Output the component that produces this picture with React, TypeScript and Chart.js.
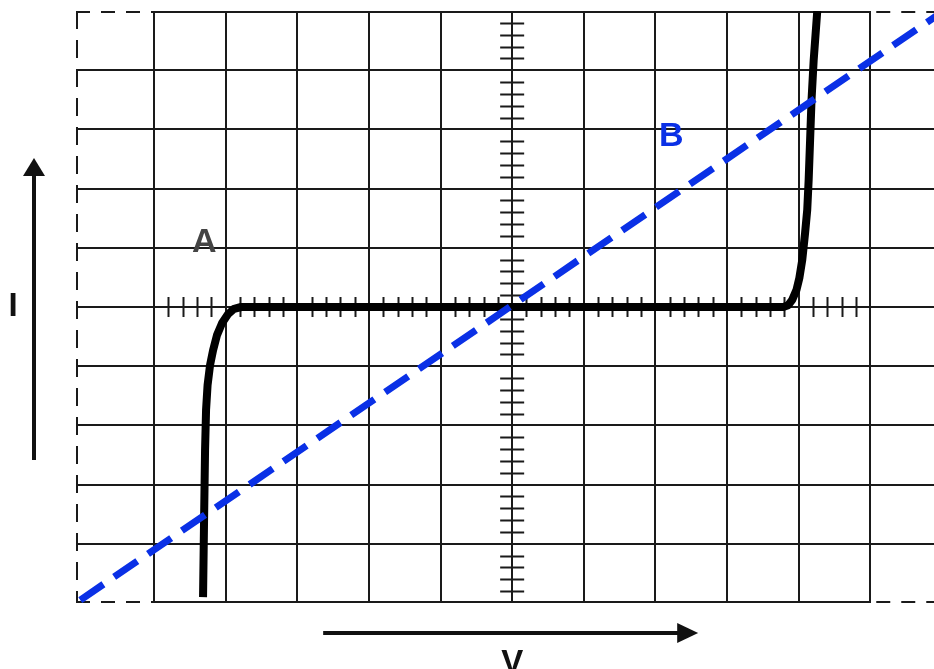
import React, { useEffect, useRef } from 'react';
import { Chart, registerables } from 'chart.js';

Chart.register(...registerables);

// Axis ranges (divisions of the oscilloscope screen)
const X_MIN = -6.09;
const X_MAX = 5.89;
const Y_MIN = -5;
const Y_MAX = 5;

// Grid tick positions
const xGridTicks = [-5, -4, -3, -2, -1, 0, 1, 2, 3, 4, 5];
const yGridTicks = [-4, -3, -2, -1, 0, 1, 2, 3, 4];

// Curve A (diode / zener characteristic)
const diodeVoltage = [
  -4.316, -4.302, -4.288, -4.274, -4.253, -4.218, -4.176, -4.12, -4.05, -3.966, -3.883, -3.785,
  3.785, 3.855, 3.91, 3.97, 4.01, 4.05, 4.09, 4.12, 4.14, 4.16, 4.18, 4.21, 4.26,
];
const diodeCurrent = [
  -4.9, -3.6, -2.42, -1.74, -1.32, -0.98, -0.73, -0.47, -0.27, -0.12, -0.03, 0,
  0, 0.03, 0.12, 0.29, 0.49, 0.79, 1.25, 1.64, 2.15, 2.82, 3.5, 4.17, 5.0,
];

// Curve B (resistor, linear)
const resistorVoltage = [-6.03, 6.0];
const resistorCurrent = [-4.95, 4.98];

// Curve labels (data coordinates)
const curveLabels = [
  { text: 'A', x: -4.30, y: 1.08, color: '#444444' },
  { text: 'B', x: 2.22, y: 2.87, color: '#0a30e6' },
];

const GRID = '#1a1a1a';
const BLUE = '#0a30e6';
const FONT = '"Liberation Sans", Arial, sans-serif';

const decorPlugin = {
  id: 'decor',
  beforeDatasetsDraw(chart: any) {
    const { ctx, chartArea, scales } = chart;
    const xs = scales.x;
    const ys = scales.y;
    ctx.save();
    ctx.strokeStyle = GRID;
    ctx.lineWidth = 2;
    ctx.lineCap = 'butt';

    const xl = xs.getPixelForValue(-5);
    const xr = xs.getPixelForValue(5);
    // top & bottom lines: solid inside, dashed outside
    for (const v of [Y_MIN, Y_MAX]) {
      const py = v === Y_MAX ? chartArea.top + 1 : chartArea.bottom - 1;
      ctx.setLineDash([]);
      ctx.beginPath();
      ctx.moveTo(xl, py);
      ctx.lineTo(xr, py);
      ctx.stroke();
      ctx.setLineDash([14, 11]);
      ctx.beginPath();
      ctx.moveTo(chartArea.left, py);
      ctx.lineTo(xl, py);
      ctx.stroke();
      ctx.beginPath();
      ctx.moveTo(xr + 6, py);
      ctx.lineTo(chartArea.right, py);
      ctx.stroke();
    }
    // left dashed border
    ctx.setLineDash([18, 11]);
    ctx.beginPath();
    ctx.moveTo(chartArea.left + 1, chartArea.top);
    ctx.lineTo(chartArea.left + 1, chartArea.bottom);
    ctx.stroke();
    ctx.setLineDash([]);

    // minor ticks on the centre axes
    const x0 = xs.getPixelForValue(0);
    const y0 = ys.getPixelForValue(0);
    ctx.beginPath();
    for (let i = -24; i <= 24; i++) {
      if (i % 5 === 0) continue;
      const px = Math.round(xs.getPixelForValue(i / 5)) + 0.5;
      ctx.moveTo(px, y0 - 10);
      ctx.lineTo(px, y0 + 10);
      const py = Math.round(ys.getPixelForValue(i / 5)) + 0.5;
      ctx.moveTo(x0 - 12, py);
      ctx.lineTo(x0 + 12, py);
    }
    ctx.stroke();
    ctx.restore();
  },
  afterDraw(chart: any) {
    const { ctx, chartArea, scales } = chart;
    const xs = scales.x;
    const ys = scales.y;
    ctx.save();
    ctx.textAlign = 'center';
    ctx.textBaseline = 'middle';
    for (const l of curveLabels) {
      ctx.fillStyle = l.color;
      ctx.font = `bold 34px ${FONT}`;
      ctx.fillText(l.text, xs.getPixelForValue(l.x), ys.getPixelForValue(l.y));
    }
    // axis letters
    ctx.fillStyle = '#111';
    ctx.font = `bold 33px ${FONT}`;
    const yMid = ys.getPixelForValue(0);
    ctx.fillText('I', 13, yMid);
    ctx.textBaseline = 'alphabetic';
    ctx.fillText('V', xs.getPixelForValue(0), chartArea.bottom + 70);

    // arrows
    ctx.strokeStyle = '#111';
    ctx.fillStyle = '#111';
    ctx.lineWidth = 4;
    // vertical arrow (I)
    const ax = 34;
    ctx.beginPath();
    ctx.moveTo(ax, yMid + 153);
    ctx.lineTo(ax, yMid - 135);
    ctx.stroke();
    ctx.beginPath();
    ctx.moveTo(ax, yMid - 149);
    ctx.lineTo(ax - 11, yMid - 131);
    ctx.lineTo(ax + 11, yMid - 131);
    ctx.closePath();
    ctx.fill();
    // horizontal arrow (V)
    const ay = chartArea.bottom + 30;
    const xc = xs.getPixelForValue(0);
    ctx.beginPath();
    ctx.moveTo(xc - 189, ay);
    ctx.lineTo(xc + 168, ay);
    ctx.stroke();
    ctx.beginPath();
    ctx.moveTo(xc + 186, ay);
    ctx.lineTo(xc + 165, ay - 10);
    ctx.lineTo(xc + 165, ay + 10);
    ctx.closePath();
    ctx.fill();
    ctx.restore();
  },
};

export default function App() {
  const canvasRef = useRef<HTMLCanvasElement | null>(null);

  useEffect(() => {
    const canvas = canvasRef.current;
    if (!canvas) return;
    const chart = new Chart(canvas, {
      type: 'scatter',
      data: {
        datasets: [
          {
            label: 'B',
            data: resistorVoltage.map((v, i) => ({ x: v, y: resistorCurrent[i] })),
            showLine: true,
            borderColor: BLUE,
            borderWidth: 7,
            borderDash: [28, 13],
            borderCapStyle: 'butt',
            pointRadius: 0,
            order: 0,
          },
          {
            label: 'A',
            data: diodeVoltage.map((v, i) => ({ x: v, y: diodeCurrent[i] })),
            showLine: true,
            borderColor: '#000',
            borderWidth: 8,
            tension: 0,
            borderCapStyle: 'butt',
            borderJoinStyle: 'round',
            pointRadius: 0,
            order: 1,
          },
        ],
      },
      options: {
        responsive: false,
        animation: false,
        devicePixelRatio: 1,
        layout: { padding: { left: 76, top: 11, right: 0, bottom: 66 } },
        plugins: {
          legend: { display: false },
          tooltip: { enabled: false },
        },
        scales: {
          x: {
            type: 'linear',
            min: X_MIN,
            max: X_MAX,
            afterBuildTicks: (scale: any) => {
              scale.ticks = xGridTicks.map((v) => ({ value: v }));
            },
            ticks: { display: false },
            grid: { color: GRID, lineWidth: 2, drawTicks: false },
            border: { display: false },
          },
          y: {
            type: 'linear',
            min: Y_MIN,
            max: Y_MAX,
            afterBuildTicks: (scale: any) => {
              scale.ticks = yGridTicks.map((v) => ({ value: v }));
            },
            ticks: { display: false },
            grid: { color: GRID, lineWidth: 2, drawTicks: false },
            border: { display: false },
          },
        },
      },
      plugins: [decorPlugin],
    } as any);
    return () => chart.destroy();
  }, []);

  return (
    <div style={{ position: 'absolute', left: 0, top: 0, width: 934, height: 669, background: '#fff' }}>
      <canvas ref={canvasRef} width={934} height={669} style={{ display: 'block' }} />
    </div>
  );
}
